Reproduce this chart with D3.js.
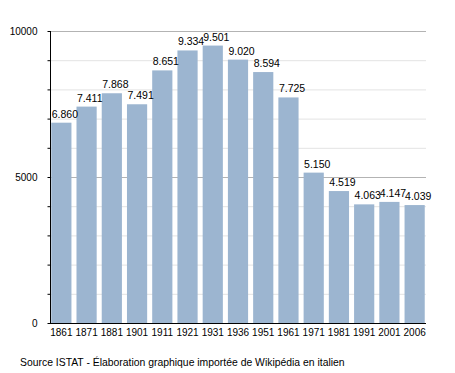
<!DOCTYPE html>
<html>
<head>
<meta charset="utf-8">
<script src="https://cdn.jsdelivr.net/npm/d3@7"></script>
<style>
  body { margin: 0; background: #fff; }
  text { font-family: "Liberation Sans", Arial, sans-serif; fill: #000; }
</style>
</head>
<body>
<svg></svg>
<script>
/* data */
var years = ["1861", "1871", "1881", "1901", "1911", "1921", "1931", "1936",
             "1951", "1961", "1971", "1981", "1991", "2001", "2006"];
var population = [6860, 7411, 7868, 7491, 8651, 9334, 9501, 9020,
                  8594, 7725, 5150, 4519, 4063, 4147, 4039];
var valueLabels = ["6.860", "7.411", "7.868", "7.491", "8.651", "9.334", "9.501", "9.020",
                   "8.594", "7.725", "5.150", "4.519", "4.063", "4.147", "4.039"];
var yTickLabels = [0, 5000, 10000];
var gridValues = [1000, 2000, 3000, 4000, 5000, 6000, 7000, 8000, 9000, 10000];

/* svg setting */
var svgWidth = 455;
var svgHeight = 373;
var plot = {left: 50, right: 426, top: 31, bottom: 323};

var svg = d3.select("svg")
    .attr('width', svgWidth)
    .attr('height', svgHeight);

var scale = {};
scale.x = d3.scaleBand()
    .domain(years)
    .range([plot.left, plot.right])
    .paddingInner(0.2)
    .paddingOuter(0.05);
scale.y = d3.scaleLinear()
    .domain([0, 10000])
    .range([plot.bottom, plot.top]);

/* grid lines */
svg.append('g')
    .selectAll('line')
    .data(gridValues)
    .enter()
    .append('line')
    .attr('x1', plot.left)
    .attr('x2', plot.right)
    .attr('y1', function(d){return scale.y(d) + 0.5})
    .attr('y2', function(d){return scale.y(d) + 0.5})
    .attr('stroke', function(d){return d % 5000 === 0 ? '#b3b3b3' : '#e3e3e3'})
    .attr('stroke-width', 1);

/* bars */
svg.append('g')
    .selectAll('rect')
    .data(population)
    .enter()
    .append('rect')
    .attr('x', function(d, i){return scale.x(years[i])})
    .attr('y', function(d){return scale.y(d)})
    .attr('width', scale.x.bandwidth())
    .attr('height', function(d){return scale.y(0) - scale.y(d)})
    .attr('fill', '#9cb5d0');

/* value labels */
svg.append('g')
    .selectAll('text')
    .data(population)
    .enter()
    .append('text')
    .attr('x', function(d, i){return scale.x(years[i]) + 0.5})
    .attr('y', function(d){return scale.y(d) - 5})
    .attr('font-size', '10.5px')
    .text(function(d, i){return valueLabels[i]});

/* y axis */
var yAxis = d3.axisLeft(scale.y)
    .tickValues(d3.range(0, 10001, 1000))
    .tickSize(3)
    .tickPadding(10)
    .tickFormat(function(d){return yTickLabels.indexOf(d) >= 0 ? d : ''});
var gy = svg.append('g')
    .attr('transform', translate(plot.left + 0.5, 0))
    .call(yAxis);
gy.select('.domain').attr('stroke', '#000').attr('d', 'M0,' + plot.top + 'V' + (plot.bottom + 0.5));
gy.selectAll('.tick line').attr('stroke', '#000');
gy.selectAll('.tick text')
    .attr('font-size', '10px')
    .attr('font-family', '"Liberation Sans", Arial, sans-serif');

/* x axis */
var xAxis = d3.axisBottom(scale.x)
    .tickSize(0)
    .tickPadding(5);
var gx = svg.append('g')
    .attr('transform', translate(0, plot.bottom + 0.5))
    .call(xAxis);
gx.select('.domain').attr('stroke', '#000').attr('d', 'M' + plot.left + ',0H' + plot.right);
gx.selectAll('.tick text')
    .attr('font-size', '10px')
    .attr('font-family', '"Liberation Sans", Arial, sans-serif');

/* source note */
svg.append('text')
    .attr('x', 20)
    .attr('y', 365.5)
    .attr('font-size', '10.4px')
    .text('Source ISTAT - Élaboration graphique importée de Wikipédia en italien');

function translate(x, y) {
    return 'translate(' + x + ',' + y + ')';
}
</script>
</body>
</html>
